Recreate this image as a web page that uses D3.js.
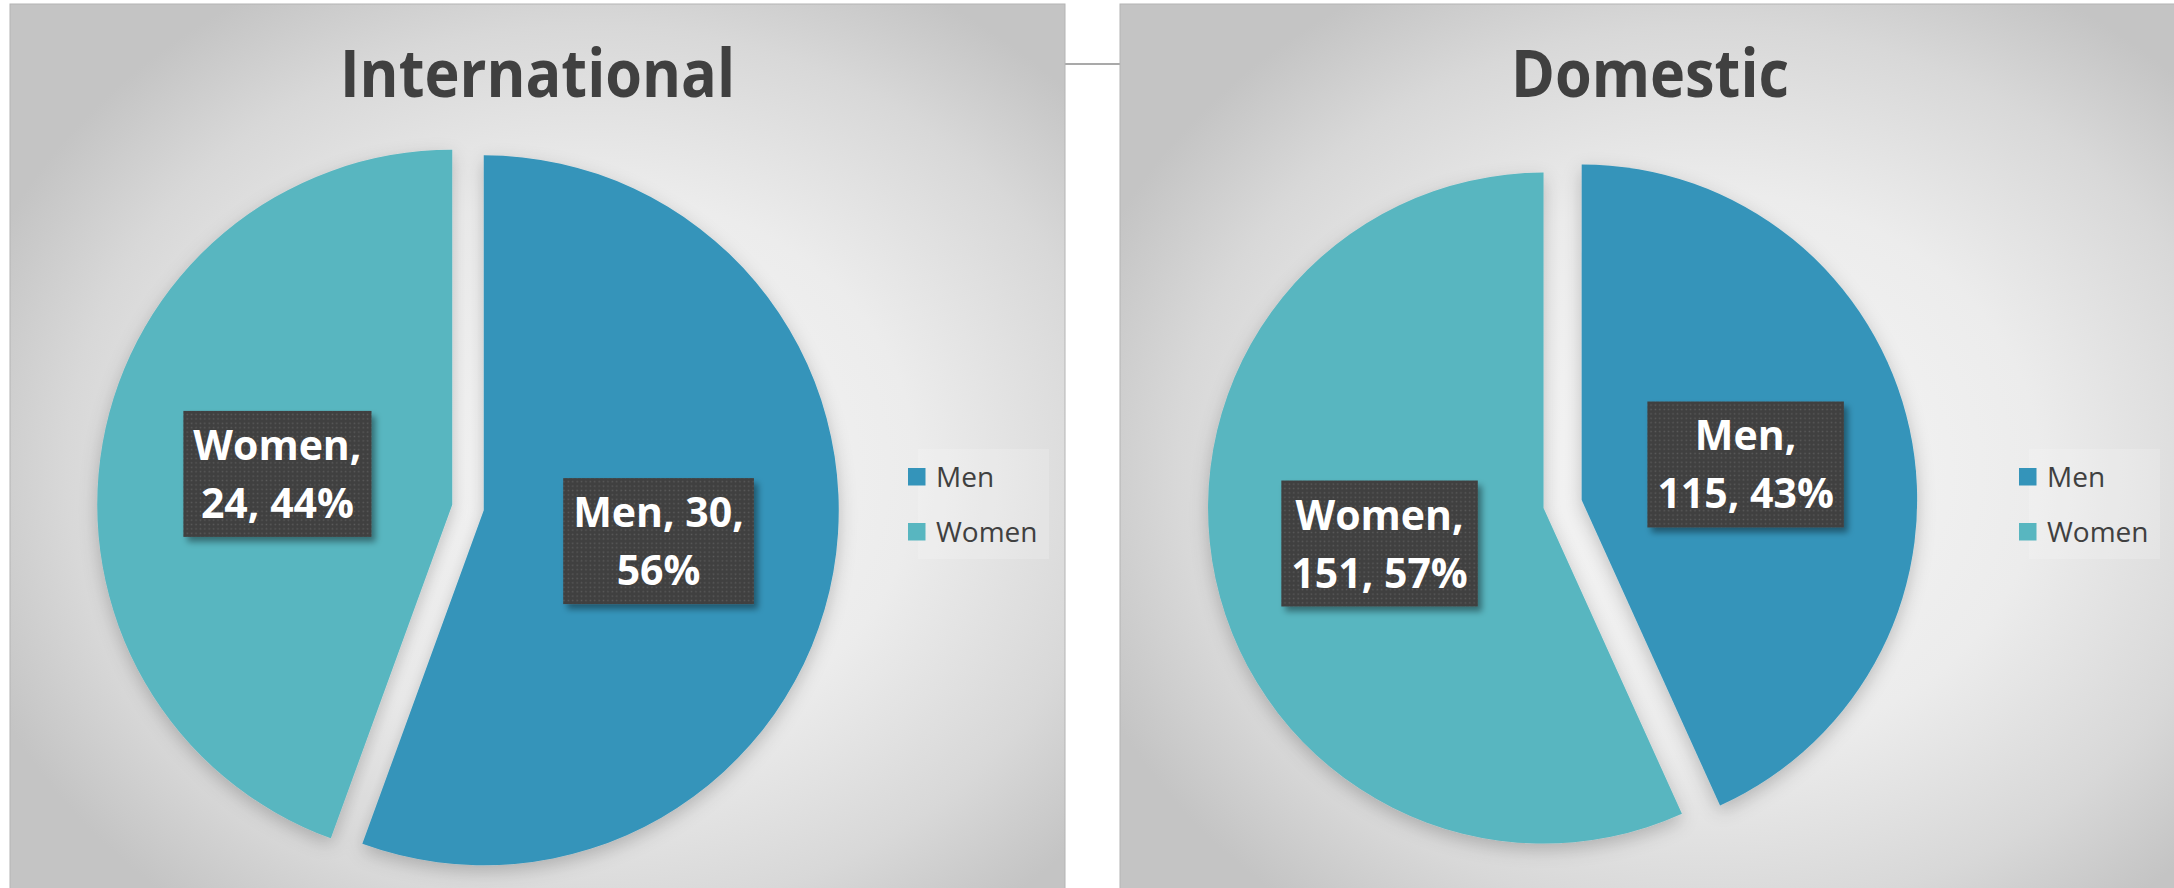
<!DOCTYPE html>
<html>
<head>
<meta charset="utf-8">
<script src="https://cdn.jsdelivr.net/npm/d3@7"></script>
<style>
  html, body { margin: 0; padding: 0; background: #fff; }
  svg { display: block; }
</style>
</head>
<body>
<div id="chart"></div>
<script>
// --- data ---
const categories = ['Men', 'Women'];
const sliceColors = ['#3494BA', '#58B6C0'];
const panelTitles = ['International', 'Domestic'];
const internationalValues = [30, 24];
const domesticValues = [115, 151];

const W = 2174, H = 888;
const FONT = '"Open Sans", "Liberation Sans", sans-serif';

// layout of each chart box (pixels)
const panels = [
  { title: panelTitles[0], values: internationalValues, x: 10, w: 1055,
    cx: 468, cy: 507.5, r: 355, explode: 16, legendX: 908 },
  { title: panelTitles[1], values: domesticValues, x: 1120, w: 1070,
    cx: 1562.6, cy: 504, r: 335.5, explode: 19.5, legendX: 2019 }
];

const svg = d3.select('#chart').append('svg')
  .attr('width', W)
  .attr('height', H)
  .attr('viewBox', `0 0 ${W} ${H}`);

const defs = svg.append('defs');

// radial grey background used by Excel's preset
const grad = defs.append('radialGradient')
  .attr('id', 'bg')
  .attr('cx', '55%').attr('cy', '52%').attr('r', '62%');
grad.append('stop').attr('offset', '0%').attr('stop-color', '#f7f7f7');
grad.append('stop').attr('offset', '50%').attr('stop-color', '#ececec');
grad.append('stop').attr('offset', '80%').attr('stop-color', '#d8d8d8');
grad.append('stop').attr('offset', '100%').attr('stop-color', '#c4c4c4');

// dotted dark fill of the data labels
const pat = defs.append('pattern')
  .attr('id', 'dots')
  .attr('patternUnits', 'userSpaceOnUse')
  .attr('width', 4.4).attr('height', 4.4);
pat.append('rect').attr('width', 4.4).attr('height', 4.4).attr('fill', '#404040');
pat.append('rect').attr('x', 1.5).attr('y', 1.5).attr('width', 1.4).attr('height', 1.4).attr('fill', '#5c5c5c');

const shadow = defs.append('filter')
  .attr('id', 'shadow')
  .attr('x', '-20%').attr('y', '-20%').attr('width', '150%').attr('height', '150%');
shadow.append('feDropShadow')
  .attr('dx', 4).attr('dy', 5).attr('stdDeviation', 3)
  .attr('flood-color', '#000').attr('flood-opacity', 0.4);

// soft shadow under the pie slices
const pieShadow = defs.append('filter')
  .attr('id', 'pieShadow')
  .attr('x', '-20%').attr('y', '-20%').attr('width', '140%').attr('height', '140%');
pieShadow.append('feDropShadow')
  .attr('dx', 0).attr('dy', 6).attr('stdDeviation', 9)
  .attr('flood-color', '#000').attr('flood-opacity', 0.22);

// small connector line between the two boxes
svg.append('line')
  .attr('x1', 1065).attr('x2', 1120)
  .attr('y1', 64).attr('y2', 64)
  .attr('stroke', '#8c8c8c')
  .attr('stroke-width', 1.5);

const pie = d3.pie().sort(null).value(d => d);

// measuring helper for label wrapping
const measure = svg.append('text')
  .attr('font-family', FONT)
  .attr('font-weight', 700)
  .attr('font-size', 41)
  .attr('visibility', 'hidden');
function textWidth(s) {
  measure.text(s);
  return measure.node().getComputedTextLength();
}
function wrap(words, maxW) {
  const lines = [];
  let cur = '';
  words.forEach(w => {
    const test = cur ? cur + ' ' + w : w;
    if (cur && textWidth(test) > maxW) {
      lines.push(cur);
      cur = w;
    } else {
      cur = test;
    }
  });
  if (cur) lines.push(cur);
  return lines;
}

panels.forEach(p => {
  const g = svg.append('g');

  g.append('rect')
    .attr('x', p.x).attr('y', 4)
    .attr('width', p.w).attr('height', H + 10)
    .attr('fill', 'url(#bg)')
    .attr('stroke', '#b4b4b4')
    .attr('stroke-width', 1);

  g.append('text')
    .attr('transform', `translate(${p.x + p.w / 2 + (p.x > 1000 ? -5 : 0)},97) scale(0.9,1)`)
    .attr('text-anchor', 'middle')
    .attr('font-family', FONT)
    .attr('font-weight', 700)
    .attr('font-size', 66)
    .attr('fill', '#404040')
    .text(p.title);

  const total = d3.sum(p.values);
  const arc = d3.arc().innerRadius(0).outerRadius(p.r);
  const slices = pie(p.values);

  const offset = d => {
    const mid = (d.startAngle + d.endAngle) / 2;
    return [Math.sin(mid) * p.explode, -Math.cos(mid) * p.explode];
  };

  const pieG = g.append('g').attr('transform', `translate(${p.cx},${p.cy})`);

  pieG.append('g')
    .attr('filter', 'url(#pieShadow)')
    .selectAll('path')
    .data(slices)
    .join('path')
    .attr('transform', d => `translate(${offset(d)})`)
    .attr('d', arc)
    .attr('fill', (d, i) => sliceColors[i]);

  // data labels: "Category, value, pct%"
  slices.forEach((d, i) => {
    const pct = Math.round(d.data / total * 100);
    const words = [categories[i] + ',', d.data + ',', pct + '%'];
    const lines = wrap(words, 185);
    const [ox, oy] = offset(d);
    const [ax, ay] = arc.centroid(d);
    const lx = ax + ox, ly = ay + oy;
    const bw = d3.max(lines, l => textWidth(l)) + 20;
    const bh = 126;

    const lg = pieG.append('g').attr('transform', `translate(${lx},${ly})`);
    lg.append('rect')
      .attr('x', -bw / 2).attr('y', -bh / 2)
      .attr('width', bw).attr('height', bh)
      .attr('fill', 'url(#dots)')
      .attr('filter', 'url(#shadow)');
    lg.selectAll('text')
      .data(lines)
      .join('text')
      .attr('x', 0)
      .attr('y', (l, k) => -14 + k * 58)
      .attr('text-anchor', 'middle')
      .attr('font-family', FONT)
      .attr('font-weight', 700)
      .attr('font-size', 41)
      .attr('fill', '#ffffff')
      .text(l => l);
  });

  // legend
  const leg = g.append('g').attr('transform', `translate(${p.legendX},468)`);
  leg.append('rect')
    .attr('x', 10).attr('y', -19)
    .attr('width', 131).attr('height', 110)
    .attr('fill', '#ffffff')
    .attr('fill-opacity', 0.18);
  const item = leg.selectAll('g.item')
    .data(categories)
    .join('g')
    .attr('class', 'item')
    .attr('transform', (c, i) => `translate(0,${i * 55})`);
  item.append('rect')
    .attr('width', 17.5).attr('height', 17.5)
    .attr('fill', (c, i) => sliceColors[i]);
  item.append('text')
    .attr('x', 28).attr('y', 19)
    .attr('font-family', FONT)
    .attr('font-size', 28)
    .attr('fill', '#404040')
    .text(c => c);
});

measure.remove();
</script>
</body>
</html>
